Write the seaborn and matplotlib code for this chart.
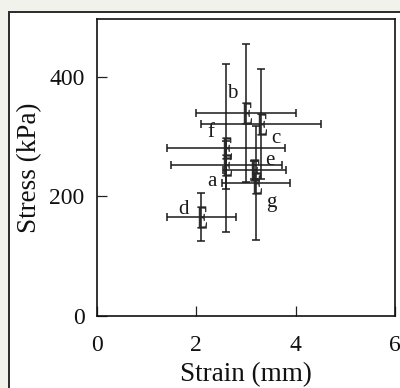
import matplotlib
matplotlib.use("Agg")
import matplotlib.pyplot as plt
import seaborn as sns
import pandas as pd
from matplotlib.patches import Rectangle
from matplotlib.textpath import TextPath
from matplotlib.font_manager import FontProperties
from matplotlib.transforms import Affine2D

# ---- data ----
labels = ["a", "b", "c", "d", "e", "f", "g"]
strain = [2.6, 3.0, 3.3, 2.1, 3.17, 2.6, 3.2]
stress = [253, 340, 321, 165, 244, 281, 223]
strain_err = [1.12, 1.0, 1.2, 0.69, 0.63, 1.19, 0.69]
stress_err = [40, 115, 92, 40, 15, 140, 95]
# label offsets (points) for each point letter
label_dx = [-10, -10, 11, -13, 11, -11, 11]
label_dy = [-12, 14, -10, 6, 7, 11, -14]

x_ticks = [0, 2, 4, 6]
y_ticks = [0, 200, 400]

df = pd.DataFrame({"label": labels, "strain": strain, "stress": stress,
                   "sx": strain_err, "sy": stress_err})

sns.set_theme(style="ticks")
plt.rcParams["font.family"] = ["Liberation Serif", "DejaVu Serif"]

# narrow "E" glyph used as point marker
tp = TextPath((0, 0), "E", size=10, prop=FontProperties(family="Liberation Serif"))
ext = tp.get_extents()
e_path = tp.transformed(Affine2D().translate(-(ext.x0 + ext.x1) / 2 + 0.4,
                                             -(ext.y0 + ext.y1) / 2).scale(0.52, 1.0))

fig = plt.figure(figsize=(4.0, 3.88), dpi=100, facecolor="#f2f2ec")
# outer white panel with a dark frame
fig.patches.append(Rectangle((9 / 400, -0.05), 1.1, 1 - 12 / 388 + 0.05,
                             transform=fig.transFigure, facecolor="white",
                             edgecolor="#2a2a2a", linewidth=1.4, zorder=-5))

ax = fig.add_axes([97 / 400, (388 - 316) / 388, (395 - 97) / 400, (316 - 19) / 388])
ax.set_zorder(5)
ax.set_facecolor("white")

ax.errorbar(df["strain"], df["stress"], xerr=df["sx"], yerr=df["sy"],
            fmt="none", ecolor="#1a1a1a", elinewidth=1.1, capsize=3,
            capthick=1.1, zorder=2)
sns.scatterplot(data=df, x="strain", y="stress", ax=ax, marker=e_path, s=240,
                color="#262626", edgecolor="#262626", linewidth=0.4, legend=False,
                zorder=3)

for lab, xv, yv, dx, dy in zip(labels, strain, stress, label_dx, label_dy):
    ax.annotate(lab, (xv, yv), xytext=(dx, dy), textcoords="offset points",
                ha="center", va="center", fontsize=15, color="#1a1a1a", zorder=3)

ax.set_xlim(0, 6)
ax.set_ylim(0, 497)
ax.set_xticks(x_ticks)
ax.set_yticks(y_ticks)
ax.tick_params(direction="in", length=7, width=0.9, colors="#222222",
               labelsize=17, labelcolor="#111111")
ax.tick_params(axis="x", pad=14)
ax.tick_params(axis="y", pad=9)
for sp in ax.spines.values():
    sp.set_linewidth(1.2)
    sp.set_color("#111111")
    sp.set_visible(True)

ax.set_xlabel("Strain (mm)", fontsize=19.5, color="#111111", labelpad=4)
ax.set_ylabel("Stress (kPa)", fontsize=19.5, color="#111111", labelpad=5)

fig.savefig("out.png", dpi=100, facecolor=fig.get_facecolor())
